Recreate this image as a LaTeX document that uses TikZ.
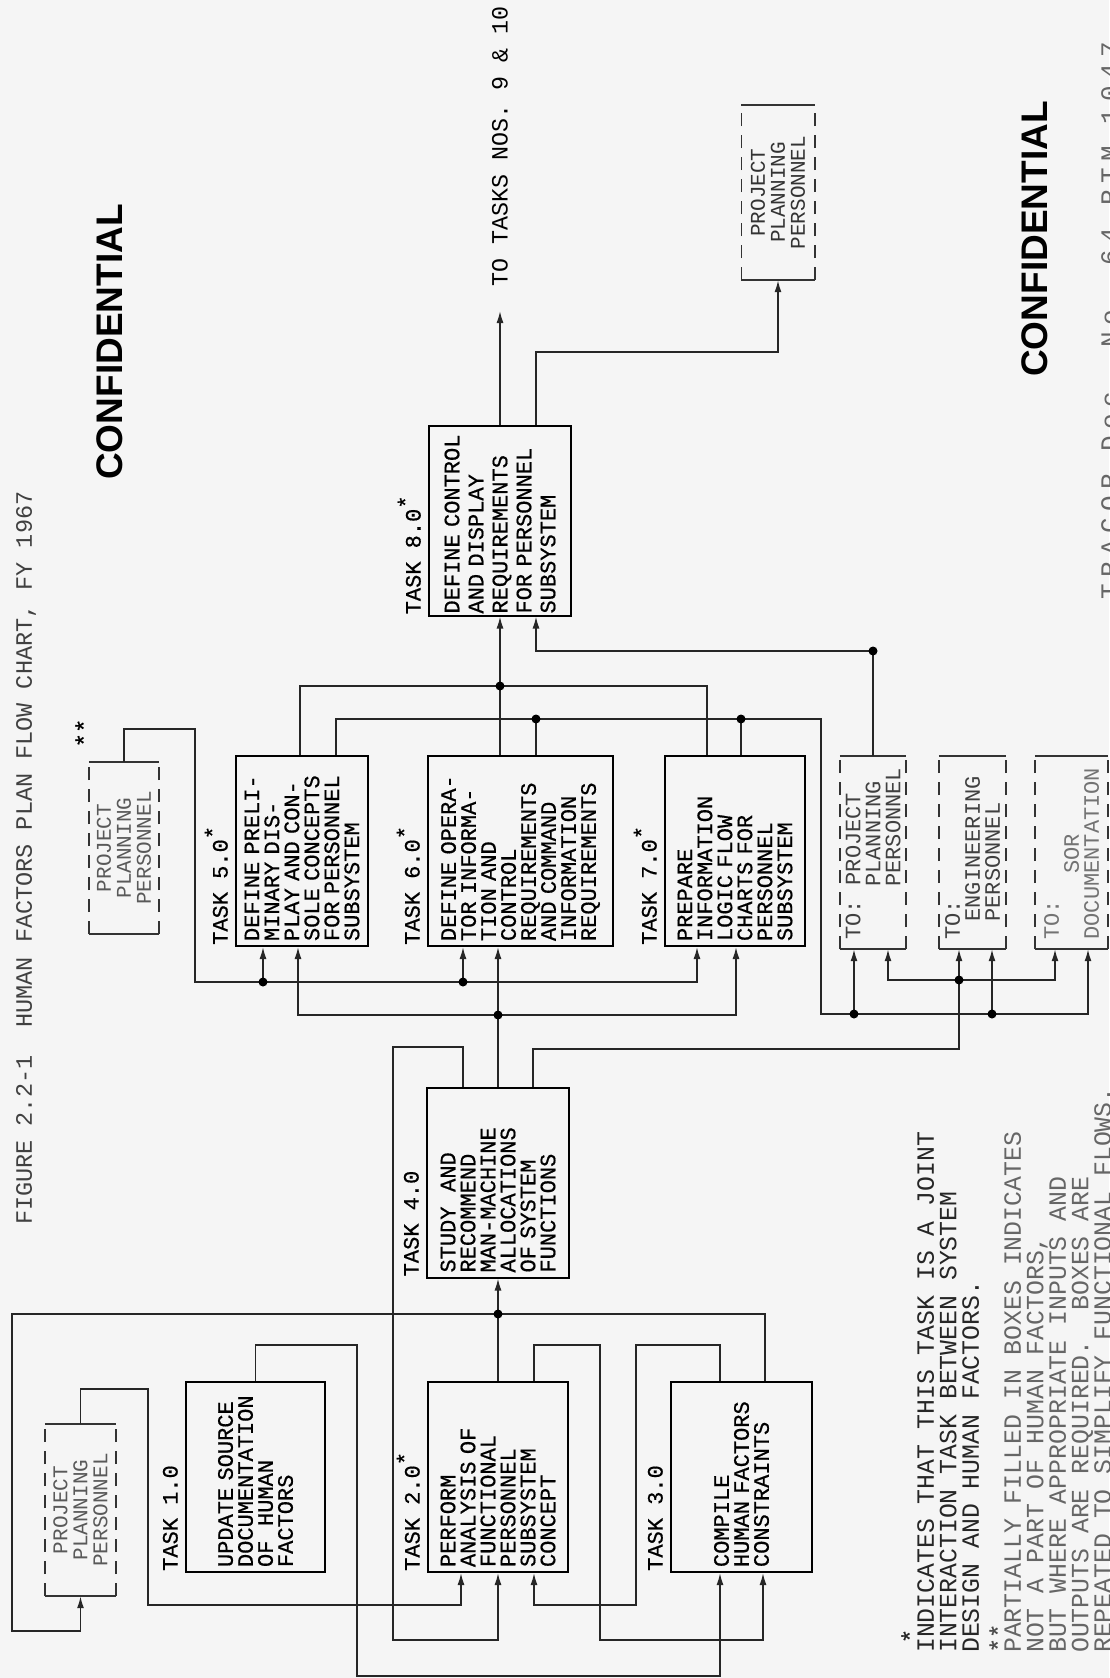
\documentclass[tikz,border=0pt]{standalone}
\usepackage{fontspec}
\usetikzlibrary{arrows.meta}
\newfontfamily\typefont{Liberation Mono}
\newfontfamily\heavytype{Liberation Mono}[FakeBold=0.6]
\newfontfamily\spacedtype{Liberation Mono}[LetterSpace=25]
\newfontfamily\stampfont{Liberation Sans}
\frenchspacing

\begin{document}
\begin{tikzpicture}[
    x=1pt, y=-1pt,
    wire/.style={line width=1.6pt, draw=black!85},
    arrow/.style={wire, -{Latex[length=12pt, width=7pt]}},
    task/.style={rectangle, rotate=90, draw=black, line width=2pt, minimum height=#1, text width=180pt, inner xsep=5pt, inner ysep=3pt, align=left, font=\heavytype\fontsize{22}{20}\selectfont},
    tasklabel/.style={rotate=90, anchor=south west, inner xsep=2pt, inner ysep=7pt, font=\heavytype\fontsize{22}{20}\selectfont},
    part/.style={rectangle, rotate=90, minimum width=172pt, minimum height=71pt, inner sep=0pt, align=center, text=black!65, font=\typefont\fontsize{21}{20}\selectfont},
    tobox/.style={part, minimum width=193pt, minimum height=67pt, text width=174pt, align=left, text=black!75, font=\typefont\fontsize{22}{20}\selectfont},
    note/.style={rotate=90, anchor=north west, inner sep=0pt, align=left, font=\typefont\fontsize{24.8}{22.5}\selectfont},
    stamp/.style={rotate=90, inner sep=0pt, font=\stampfont\bfseries\fontsize{37}{40}\selectfont},
    starmark/.style={rotate=90, inner sep=0pt, font=\heavytype\fontsize{24}{24}\selectfont}
]
    \useasboundingbox (0,0) rectangle (1109,1678);
    \fill[black!4] (0,0) rectangle (1109,1678);

    \node[task=139] (t1) at (255.5,1477) {UPDATE SOURCE\\DOCUMENTATION\\OF\ \ HUMAN\\FACTORS};
    \node[task=140] (t2) at (498,1477) {PERFORM\\ANALYSIS OF\\FUNCTIONAL\\PERSONNEL\\SUBSYSTEM\\CONCEPT};
    \node[task=141] (t3) at (741.5,1477) {COMPILE\\HUMAN FACTORS\\CONSTRAINTS};
    \node[task=142] (t4) at (498,1182.5) {STUDY\ \ AND\\RECOMMEND\\MAN-MACHINE\\ALLOCATIONS\\OF SYSTEM\\FUNCTIONS};
    \node[task=132] (t5) at (302,851) {DEFINE PRELI-\\MINARY DIS-\\PLAY AND CON-\\SOLE CONCEPTS\\FOR PERSONNEL\\SUBSYSTEM};
    \node[task=185] (t6) at (520.5,851) {DEFINE OPERA-\\TOR INFORMA-\\TION AND\\CONTROL\\REQUIREMENTS\\AND COMMAND\\INFORMATION\\REQUIREMENTS};
    \node[task=140] (t7) at (735,851) {PREPARE\\INFORMATION\\LOGIC FLOW\\CHARTS FOR\\PERSONNEL\\SUBSYSTEM};
    \node[task=142, text width=186pt, inner xsep=2pt, font=\heavytype\fontsize{22}{24}\selectfont] (t8) at (500,520.5) {DEFINE CONTROL\\AND DISPLAY\\REQUIREMENTS\\FOR PERSONNEL\\SUBSYSTEM};

    \node[tasklabel] (l1) at (t1.north west) {TASK 1.0};
    \node[tasklabel] (l2) at (t2.north west) {TASK 2.0\raisebox{7pt}{*}};
    \node[tasklabel] (l3) at (t3.north west) {TASK 3.0};
    \node[tasklabel] (l4) at (t4.north west) {TASK 4.0};
    \node[tasklabel] (l5) at (t5.north west) {TASK 5.0\raisebox{7pt}{*}};
    \node[tasklabel] (l6) at (t6.north west) {TASK 6.0\raisebox{7pt}{*}};
    \node[tasklabel] (l7) at (t7.north west) {TASK 7.0\raisebox{7pt}{*}};
    \node[tasklabel] (l8) at (t8.north west) {TASK 8.0\raisebox{7pt}{*}};

    \node[part] (ppa) at (80.5,1510) {PROJECT\\PLANNING\\PERSONNEL};
    \node[part, minimum height=70pt] (ppb) at (124,848) {PROJECT\\PLANNING\\PERSONNEL};
    \node[part, minimum width=175pt, minimum height=73pt, text=black!80] (ppc) at (778,192.5) {PROJECT\\PLANNING\\PERSONNEL};
    \node[tobox, minimum height=66pt] (ppd) at (873,852.5) {TO:\ \ PROJECT\\\hphantom{XXXX}PLANNING\\\hphantom{XXXX}PERSONNEL};
    \node[tobox] (eng) at (972.5,852.5) {TO:\\\hspace*{18pt}ENGINEERING\\\hspace*{18pt}PERSONNEL};
    \node[tobox, minimum height=73pt, text=black!55] (sor) at (1071.5,852.5) {TO:\\\hphantom{XXXXX}SOR\\DOCUMENTATION};
    \node[starmark] (ppbnote) at (84,733) {**};

    \foreach \b in {ppa,ppb,ppc,ppd,eng,sor} {
        \draw[line width=1.8pt, black!80] (\b.north west) -- (\b.south west) (\b.north east) -- (\b.south east);
        \draw[line width=1.6pt, black!80, dash pattern=on 13pt off 9pt] (\b.north west) -- (\b.north east) (\b.south west) -- (\b.south east);
    }

    \node[rotate=90, anchor=west, inner sep=0pt, text=black!75, font=\typefont\fontsize{23.5}{24}\selectfont] (title) at (26,1225) {FIGURE 2.2-1\ \ HUMAN FACTORS PLAN FLOW CHART, FY 1967};
    \node[stamp] (conf1) at (110,342) {CONFIDENTIAL};
    \node[stamp] (conf2) at (1035,239) {CONFIDENTIAL};
    \node[rotate=90, anchor=west, inner sep=0pt, text=black!60, font=\spacedtype\fontsize{26}{26}\selectfont] (tracor) at (1110,600) {TRACOR Doc. No. 64 RTM 1047};
    \node[rotate=90, anchor=west, inner xsep=25pt, inner ysep=0pt, outer sep=0pt, font=\typefont\fontsize{23.3}{24}\selectfont] (totasks) at (500,311) {TO TASKS NOS. 9 \& 10};

    \node[starmark, text=black!85] (star1) at (910,1636) {*};
    \node[note, text=black!85] (note1) at (917,1653) {INDICATES THAT THIS TASK IS A JOINT\\INTERACTION TASK BETWEEN SYSTEM\\DESIGN AND HUMAN FACTORS.};
    \node[starmark, text=black!70] (star2) at (998,1638) {**};
    \node[note, text=black!60] (note2) at (1004,1653) {PARTIALLY FILLED IN BOXES INDICATES\\NOT A PART OF HUMAN FACTORS,\\BUT WHERE APPROPRIATE INPUTS AND\\OUTPUTS ARE REQUIRED.\ \ BOXES ARE\\REPEATED TO SIMPLIFY FUNCTIONAL FLOWS.};

    \coordinate (a1) at (148,1389);
    \coordinate (a2) at (461,1605);
    \coordinate (b1) at (357,1345);
    \coordinate (b2) at (720,1676);
    \coordinate (c1) at (765,1314);
    \coordinate (c2) at (12,1631);
    \coordinate (j1) at (498,1314);
    \coordinate (d0) at (534,1345);
    \coordinate (d1) at (600,1345);
    \coordinate (d2) at (763,1640);
    \coordinate (e1) at (636,1345);
    \coordinate (e2) at (534,1605);
    \coordinate (f0) at (463,1047);
    \coordinate (f1) at (393,1047);
    \coordinate (f2) at (498,1640);
    \coordinate (g0) at (498,1015);
    \coordinate (g1) at (298,1015);
    \coordinate (g2) at (736,1015);
    \coordinate (h1) at (195,729);
    \coordinate (h2) at (697,982);
    \coordinate (h3) at (263,982);
    \coordinate (h4) at (463,982);
    \coordinate (k0) at (500,686);
    \coordinate (k1) at (300,686);
    \coordinate (k2) at (707,686);
    \coordinate (m1) at (336,719);
    \coordinate (m2) at (536,719);
    \coordinate (m3) at (741,719);
    \coordinate (m4) at (821,1014);
    \coordinate (m5) at (1088,1014);
    \coordinate (m6) at (854,1014);
    \coordinate (m7) at (992,1014);
    \coordinate (n0) at (533,1049);
    \coordinate (n1) at (959,1049);
    \coordinate (n2) at (959,980);
    \coordinate (n3) at (888,980);
    \coordinate (n4) at (1055,980);
    \coordinate (p1) at (873,651);
    \coordinate (p2) at (536,651);
    \coordinate (q1) at (778,352);

    \draw[arrow] (ppa.east) |- (a1) |- (a2) -- (t2.west -| a2);
    \draw[arrow] (t1.east) |- (b1) |- (b2) -- (t3.west -| b2);
    \draw[arrow] (t2.east) -- (t4.west);
    \draw[arrow] (t3.east -| c1) -- (c1) -| (c2) -| (ppa.west);
    \draw[arrow] (t2.east -| d0) |- (d1) |- (d2) -- (t3.west -| d2);
    \draw[arrow] (t3.east -| b2) |- (e1) |- (e2) -- (t2.west -| e2);
    \draw[arrow] (t4.east -| f0) |- (f1) |- (f2) -- (t2.west);
    \draw[arrow] (t4.east) -- (t6.west -| t4.east);
    \draw[arrow] (g0) -| (t5.west -| g1);
    \draw[arrow] (g0) -| (t7.west -| g2);
    \draw[arrow] (ppb.east) |- (h1) |- (h2) -- (t7.west -| h2);
    \draw[arrow] (h3) -- (t5.west -| h3);
    \draw[arrow] (h4) -- (t6.west -| h4);
    \draw[wire] (t5.east -| k1) -- (k1) -- (k2) -- (t7.east -| k2);
    \draw[arrow] (t6.east -| k0) -- (t8.west -| k0);
    \draw[arrow] (t5.east -| m1) -- (m1) -| (m4) -- (m5) -- (sor.west -| m5);
    \draw[wire] (t6.east -| m2) -- (m2);
    \draw[wire] (t7.east -| m3) -- (m3);
    \draw[arrow] (m6) -- (ppd.west -| m6);
    \draw[arrow] (m7) -- (eng.west -| m7);
    \draw[arrow] (t4.east -| n0) |- (n1) -- (eng.west -| n1);
    \draw[arrow] (n2) -| (ppd.west -| n3);
    \draw[arrow] (n2) -| (sor.west -| n4);
    \draw[arrow] (ppd.east) |- (p2) -- (t8.west -| p2);
    \draw[arrow] (t8.east) -- (totasks.west);
    \draw[arrow] (t8.east -| p2) |- (q1) -- (ppc.west);

    \foreach \p in {j1,g0,h3,h4,k0,m2,m3,m6,m7,n2,p1}
        \fill[black] (\p) circle (4.5pt);
\end{tikzpicture}
\end{document}
